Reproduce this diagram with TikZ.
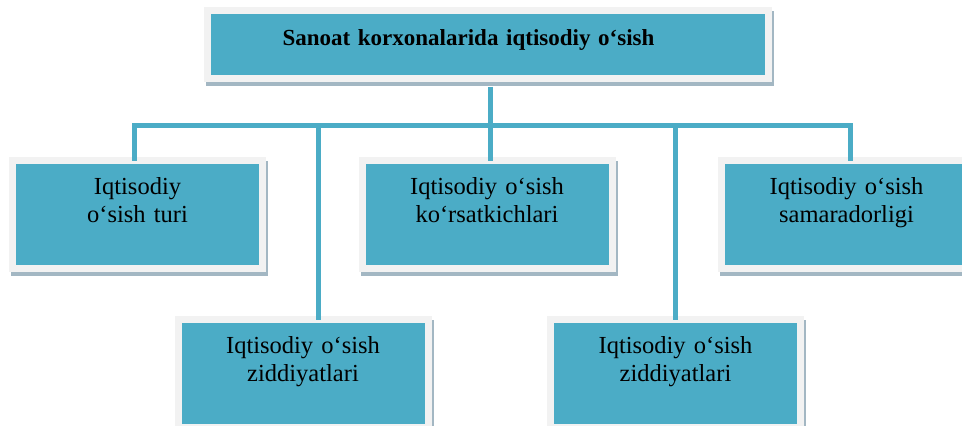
\documentclass[tikz,border=0pt]{standalone}
\usepackage{fontspec}
\setmainfont{Liberation Serif}
\usetikzlibrary{shadows}

\definecolor{boxblue}{HTML}{4BACC6}
\definecolor{boxgray}{HTML}{F2F2F2}
\definecolor{shadowc}{HTML}{A3B7C3}

\begin{document}
\begin{tikzpicture}[x=1pt,y=-1pt]

    \clip (0,0) rectangle (962,426);

    \begin{scope}[every node/.style={rectangle,fill=boxblue,draw=boxgray,line width=7pt,
            inner sep=0pt,outer sep=0pt,align=center,text width=250pt,
            text height=33.5pt,text depth=74.5pt,font=\fontsize{24.5}{28}\selectfont,
            general shadow={draw=shadowc,fill=shadowc,shadow xshift=2pt,shadow yshift=-4pt}}]
        \node (0) at (488,44.5) [text width=561pt,text height=34.5pt,text depth=33.5pt,
            font=\fontsize{23}{28}\selectfont\bfseries] {Sanoat korxonalarida iqtisodiy o‘sish\kern39pt\mbox{}};
        \node (1) at (137.5,214.5) {Iqtisodiy\\o‘sish turi};
        \node (2) at (487,214.5) {Iqtisodiy o‘sish\\ko‘rsatkichlari};
        \node (3) at (846.5,214.5) {Iqtisodiy o‘sish\\samaradorligi};
        \node (4) at (303,373.5) {Iqtisodiy o‘sish\\ziddiyatlari};
        \node (5) at (675.5,373.5) {Iqtisodiy o‘sish\\ziddiyatlari};
    \end{scope}

    % Bar points %
    \coordinate (j1) at (134,125.5);
    \coordinate (j2) at (318.5,125.5);
    \coordinate (j3) at (490.5,125.5);
    \coordinate (j4) at (675.5,125.5);
    \coordinate (j5) at (850.5,125.5);

    \begin{scope}[every path/.style={draw=boxblue,line width=5pt}]
        \draw (j1 |- 1.north) -- (j1) -- (j5) -- (j5 |- 3.north);
        \draw [shorten <=8pt] (0.south -| j3) -- (j3 |- 2.north);
        \draw (j2) -- (j2 |- 4.north);
        \draw (j4) -- (j4 |- 5.north);
    \end{scope}

\end{tikzpicture}
\end{document}
